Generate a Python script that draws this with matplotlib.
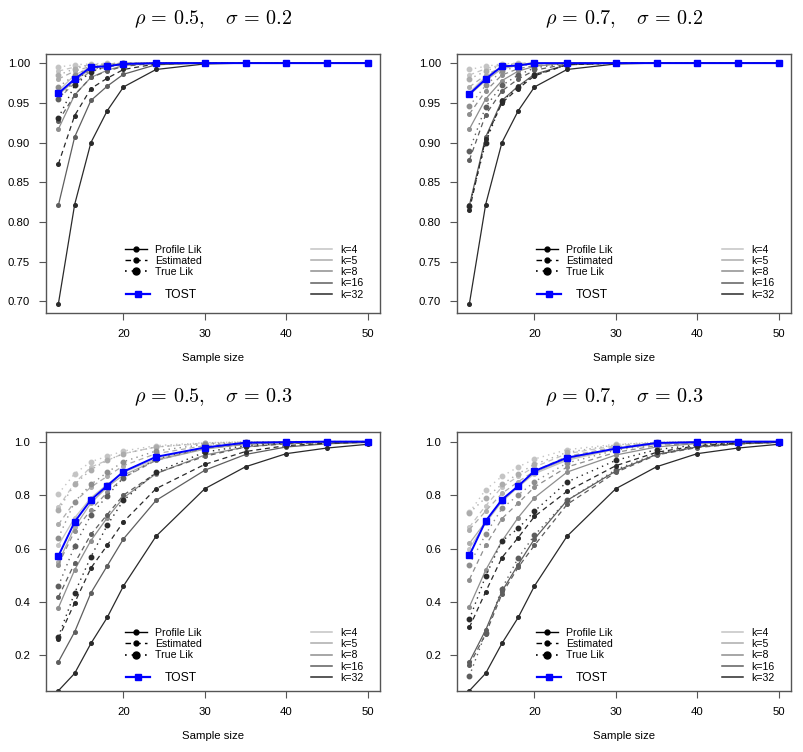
import matplotlib
matplotlib.use("Agg")
import matplotlib.pyplot as plt
from matplotlib.lines import Line2D

plt.rcParams["font.family"] = ["Liberation Sans", "DejaVu Sans"]
plt.rcParams["mathtext.fontset"] = "cm"

# sample sizes on the x axis
n = [12, 14, 16, 18, 20, 24, 30, 35, 40, 45, 50]
k_labels = ["k=4", "k=5", "k=8", "k=16", "k=32"]

# rho = 0.5, sigma = 0.2  (rows: k=4, 5, 8, 16, 32)
p1_prof = [
    [.965, .985, .995, .998, 1, 1, 1, 1, 1, 1, 1],
    [.960, .978, .993, .997, .999, 1, 1, 1, 1, 1, 1],
    [.917, .960, .982, .991, .997, 1, 1, 1, 1, 1, 1],
    [.821, .907, .953, .971, .986, .998, 1, 1, 1, 1, 1],
    [.697, .822, .900, .940, .970, .992, .999, 1, 1, 1, 1],
]
p1_est = [
    [.990, .995, .998, .999, 1, 1, 1, 1, 1, 1, 1],
    [.980, .990, .996, .998, 1, 1, 1, 1, 1, 1, 1],
    [.955, .975, .990, .995, .998, 1, 1, 1, 1, 1, 1],
    [.927, .960, .982, .990, .996, 1, 1, 1, 1, 1, 1],
    [.873, .934, .968, .981, .992, .999, 1, 1, 1, 1, 1],
]
p1_true = [
    [.995, .998, .999, 1, 1, 1, 1, 1, 1, 1, 1],
    [.985, .993, .998, .999, 1, 1, 1, 1, 1, 1, 1],
    [.970, .985, .995, .998, 1, 1, 1, 1, 1, 1, 1],
    [.955, .978, .992, .997, .999, 1, 1, 1, 1, 1, 1],
    [.931, .972, .989, .996, .999, 1, 1, 1, 1, 1, 1],
]
p1_tost = [.962, .980, .995, .996, .999, 1, 1, 1, 1, 1, 1]

# rho = 0.7, sigma = 0.2
p2_prof = [
    [.963, .983, .995, .998, 1, 1, 1, 1, 1, 1, 1],
    [.960, .978, .993, .997, .999, 1, 1, 1, 1, 1, 1],
    [.917, .955, .978, .990, .996, 1, 1, 1, 1, 1, 1],
    [.821, .907, .953, .971, .986, .998, 1, 1, 1, 1, 1],
    [.697, .822, .900, .940, .970, .992, .999, 1, 1, 1, 1],
]
p2_est = [
    [.985, .993, .998, 1, 1, 1, 1, 1, 1, 1, 1],
    [.970, .985, .995, .998, 1, 1, 1, 1, 1, 1, 1],
    [.936, .965, .985, .993, .997, 1, 1, 1, 1, 1, 1],
    [.878, .935, .965, .980, .991, .999, 1, 1, 1, 1, 1],
    [.815, .905, .950, .968, .984, .998, 1, 1, 1, 1, 1],
]
p2_true = [
    [.992, .996, .999, 1, 1, 1, 1, 1, 1, 1, 1],
    [.980, .990, .997, .999, 1, 1, 1, 1, 1, 1, 1],
    [.946, .972, .990, .996, .999, 1, 1, 1, 1, 1, 1],
    [.890, .945, .972, .985, .994, 1, 1, 1, 1, 1, 1],
    [.820, .900, .952, .970, .985, .998, 1, 1, 1, 1, 1],
]
p2_tost = [.961, .980, .996, .997, 1, 1, 1, 1, 1, 1, 1]

# rho = 0.5, sigma = 0.3
p3_prof = [
    [.612, .715, .790, .840, .885, .935, .975, .992, .998, 1, 1],
    [.548, .680, .770, .830, .875, .930, .972, .990, .997, .999, 1],
    [.378, .520, .630, .715, .790, .880, .950, .980, .993, .998, 1],
    [.176, .288, .434, .535, .636, .780, .893, .952, .980, .992, .997],
    [.068, .133, .245, .342, .460, .646, .824, .906, .955, .976, .990],
]
p3_est = [
    [.755, .845, .905, .930, .955, .980, .993, .998, 1, 1, 1],
    [.690, .775, .830, .870, .910, .955, .985, .996, .999, 1, 1],
    [.540, .665, .745, .810, .865, .930, .975, .990, .997, .999, 1],
    [.418, .545, .653, .727, .800, .882, .945, .980, .992, .997, .999],
    [.263, .397, .527, .612, .700, .824, .915, .963, .985, .994, .998],
]
p3_true = [
    [.805, .880, .925, .945, .965, .985, .996, .999, 1, 1, 1],
    [.745, .840, .895, .930, .955, .980, .995, .999, 1, 1, 1],
    [.640, .775, .840, .885, .925, .965, .990, .997, 1, 1, 1],
    [.460, .610, .725, .797, .865, .935, .978, .993, .998, 1, 1],
    [.270, .434, .569, .687, .780, .886, .961, .985, .995, .999, 1],
]
p3_tost = [.572, .700, .782, .835, .888, .943, .978, .996, .998, 1, 1]

# rho = 0.7, sigma = 0.3
p4_prof = [
    [.600, .695, .775, .830, .880, .930, .972, .990, .998, 1, 1],
    [.619, .700, .780, .834, .885, .935, .974, .992, .998, 1, 1],
    [.382, .519, .628, .716, .790, .886, .950, .980, .993, .998, 1],
    [.176, .295, .440, .540, .636, .780, .890, .952, .980, .992, .997],
    [.068, .133, .245, .342, .460, .646, .824, .906, .955, .976, .990],
]
p4_est = [
    [.680, .760, .830, .870, .905, .955, .985, .996, 1, 1, 1],
    [.671, .740, .806, .850, .890, .945, .980, .994, .999, 1, 1],
    [.484, .612, .712, .770, .830, .905, .960, .985, .995, .999, 1],
    [.164, .280, .430, .530, .612, .765, .885, .950, .978, .991, .997],
    [.305, .438, .566, .641, .720, .814, .910, .960, .985, .994, .998],
]
p4_true = [
    [.735, .820, .870, .905, .935, .970, .990, .998, 1, 1, 1],
    [.733, .790, .840, .880, .915, .960, .988, .997, 1, 1, 1],
    [.540, .653, .750, .800, .850, .920, .968, .990, .997, 1, 1],
    [.123, .285, .450, .565, .650, .780, .895, .955, .982, .993, .998],
    [.335, .497, .628, .675, .740, .849, .930, .970, .988, .996, .999],
]
p4_tost = [.574, .703, .783, .834, .890, .940, .974, .995, .998, 1, 1]

grays = ["#c4c4c4", "#acacac", "#8e8e8e", "#5e5e5e", "#2a2a2a"]
box_col = "#555555"
dash = (0, (4, 3))
dots = (0, (1, 3))

W, H = 804, 752
fig = plt.figure(figsize=(W / 100, H / 100), dpi=100)

panels = [
    (r"$\rho\,=\,0.5,\quad\sigma\,=\,0.2$", p1_prof, p1_est, p1_true, p1_tost, 46, 54, False),
    (r"$\rho\,=\,0.7,\quad\sigma\,=\,0.2$", p2_prof, p2_est, p2_true, p2_tost, 457, 54, False),
    (r"$\rho\,=\,0.5,\quad\sigma\,=\,0.3$", p3_prof, p3_est, p3_true, p3_tost, 46, 432, True),
    (r"$\rho\,=\,0.7,\quad\sigma\,=\,0.3$", p4_prof, p4_est, p4_true, p4_tost, 457, 432, True),
]


def add_legends(ax, low):
    top = 0.244 if low else 0.264
    tost_y = 0.051 if low else 0.069
    fs = 7.6
    meth = [
        Line2D([], [], color="black", lw=1.0, marker="o", ms=3.5),
        Line2D([], [], color="black", lw=1.0, ls=dash, marker="o", ms=3.5),
        Line2D([], [], color="black", lw=1.2, ls=dots, marker="o", ms=5),
    ]
    leg1 = ax.legend(meth, ["Profile Lik", "Estimated", "True Lik"], loc="upper left",
                     bbox_to_anchor=(0.237, top), frameon=False, fontsize=fs,
                     borderpad=0, borderaxespad=0, labelspacing=0.12,
                     handlelength=2.1, handletextpad=0.75)
    ax.add_artist(leg1)
    tost = [Line2D([], [], color="#0000ff", lw=1.6, marker="s", ms=4)]
    leg2 = ax.legend(tost, ["TOST"], loc="center left", bbox_to_anchor=(0.24, tost_y),
                     frameon=False, fontsize=8.7, borderpad=0, borderaxespad=0,
                     handlelength=2.0, handletextpad=1.2)
    ax.add_artist(leg2)
    klines = [Line2D([], [], color=c, lw=1.1) for c in grays]
    ax.legend(klines, k_labels, loc="upper left", bbox_to_anchor=(0.793, top),
              frameon=False, fontsize=fs, borderpad=0, borderaxespad=0,
              labelspacing=0.12, handlelength=2.0, handletextpad=0.75)


for title, prof, est, true, tost, px, py, low in panels:
    ax = fig.add_axes([px / W, 1 - (py + 259) / H, 334 / W, 259 / H])
    for i in range(len(k_labels)):
        ax.plot(n, prof[i], color=grays[i], lw=0.9, marker="o", ms=2.6)
        ax.plot(n, est[i], color=grays[i], lw=0.9, ls=dash, marker="o", ms=2.6)
        ax.plot(n, true[i], color=grays[i], lw=1.0, ls=dots, marker="o", ms=3.2)
    ax.plot(n, tost, color="#0000ff", lw=1.4, marker="s", ms=4, mfc="#0000ff", zorder=3)

    ax.set_xlim(10.48, 51.52)
    ax.set_xticks([20, 30, 40, 50])
    if low:
        ax.set_ylim(0.067, 1.036)
        ax.set_yticks([0.2, 0.4, 0.6, 0.8, 1.0])
        ax.set_yticklabels(["0.2", "0.4", "0.6", "0.8", "1.0"])
    else:
        ax.set_ylim(0.6855, 1.0115)
        yt = [0.70, 0.75, 0.80, 0.85, 0.90, 0.95, 1.00]
        ax.set_yticks(yt)
        ax.set_yticklabels([f"{v:.2f}" for v in yt])
    for s in ax.spines.values():
        s.set_color(box_col)
        s.set_linewidth(1.0)
    ax.tick_params(direction="out", length=5, width=0.8, color=box_col,
                   labelsize=8.2, pad=6.5)
    ax.set_xlabel("Sample size", fontsize=8.2, labelpad=10)
    fig.text((px + 167) / W, 1 - (py - 35) / H, title, fontsize=14.5,
             ha="center", va="center")
    add_legends(ax, low)

fig.savefig("out.png", dpi=100)
